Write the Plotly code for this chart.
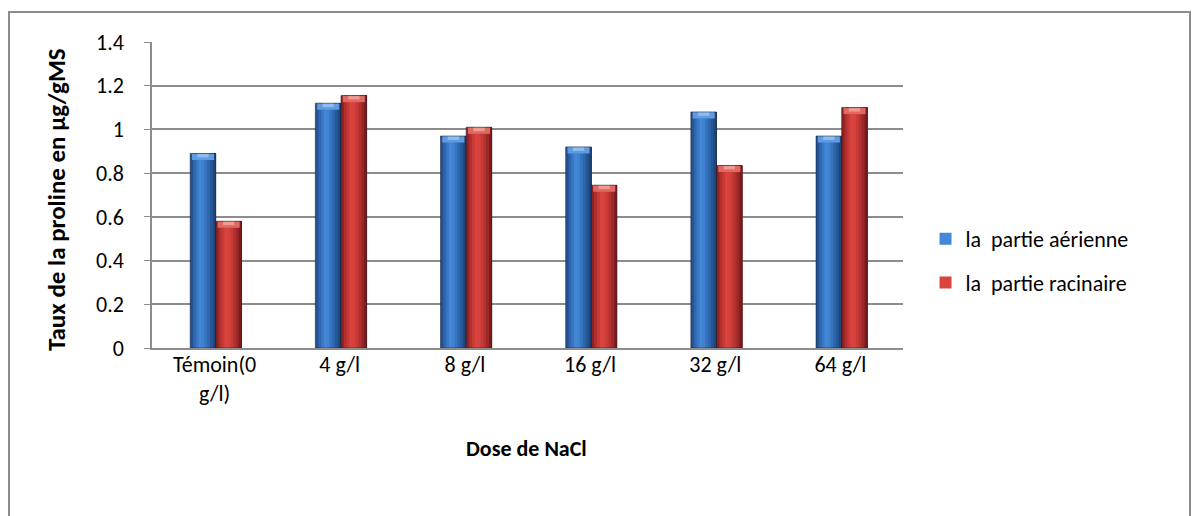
import plotly.graph_objects as go

# Proline content by NaCl dose
categories = ["Témoin(0<br>g/l)", "4 g/l", "8 g/l", "16 g/l", "32 g/l", "64 g/l"]
aerienne = [0.89, 1.12, 0.97, 0.92, 1.08, 0.97]
racinaire = [0.58, 1.155, 1.01, 0.745, 0.835, 1.10]
series_names = ["la  partie aérienne", "la  partie racinaire"]

FONT = "Carlito, Lato, 'Open Sans', sans-serif"
FS = 22

# cylinder shading: strip colours from left edge to right edge
blue_strips = ["#24518f", "#2f66ae", "#3a78c6", "#4387d6", "#3f82d0",
               "#3674c0", "#2d66ac", "#255696", "#1d4679"]
red_strips = ["#8e2222", "#b12f2c", "#c93a36", "#d9443f", "#d6423d",
              "#c83b37", "#b43230", "#9c2828", "#7c1d1d"]
# bevel highlight colours on the bar tops
blue_top = ["#5f9be0", "#8dbcf0"]
red_top = ["#e06a62", "#ee9a92"]

BAR_W = 0.205
fig = go.Figure()


def add_shaded(values, strips, tops, start, name):
    n = len(strips)
    w = BAR_W / n
    for i, col in enumerate(strips):
        # each strip runs to the bar's right edge; later strips cover earlier ones
        fig.add_trace(go.Bar(
            x=categories, y=values,
            width=[BAR_W - i * w] * len(values),
            offset=start + i * w,
            marker=dict(color=col, line=dict(width=0)),
            name=name,
            legendgroup=name,
            showlegend=(i == 3),
            hoverinfo="y+name",
        ))
    # light chevron-like bevel just under the top edge
    for k, (col, frac, depth) in enumerate([(tops[0], 0.86, 0.030), (tops[1], 0.44, 0.018)]):
        bw = BAR_W * frac
        fig.add_trace(go.Bar(
            x=categories, y=[depth] * len(values),
            base=[v - depth for v in values],
            width=[bw] * len(values),
            offset=start + (BAR_W - bw) / 2,
            marker=dict(color=col, line=dict(width=0)),
            showlegend=False, legendgroup=name, hoverinfo="skip",
        ))
    # thin dark outline on the whole bar
    fig.add_trace(go.Bar(
        x=categories, y=values,
        width=[BAR_W] * len(values), offset=start,
        marker=dict(color="rgba(0,0,0,0)", line=dict(width=1, color="rgba(20,20,40,0.5)")),
        showlegend=False, legendgroup=name, hoverinfo="skip",
    ))


add_shaded(aerienne, blue_strips, blue_top, -BAR_W + 0.01, series_names[0])
add_shaded(racinaire, red_strips, red_top, 0.01, series_names[1])

fig.update_layout(
    width=1196, height=516,
    margin=dict(l=152, r=293, t=42, b=168),
    paper_bgcolor="white", plot_bgcolor="white",
    barmode="overlay",
    font=dict(family=FONT, size=FS, color="#000000"),
    showlegend=True,
    legend=dict(x=1.03, y=(348 - 261) / 306, xanchor="left", yanchor="middle",
                font=dict(family=FONT, size=FS), tracegroupgap=12,
                bgcolor="rgba(0,0,0,0)"),
    xaxis=dict(
        type="category", showgrid=False, showline=True, linecolor="#8c8c8c",
        linewidth=1.5, ticks="", ticklabelstandoff=-4,
        tickfont=dict(family=FONT, size=FS), range=[-0.5, 5.5],
    ),
    yaxis=dict(
        range=[0, 1.4], dtick=0.2, tickformat="~g",
        showgrid=True, gridcolor="#8c8c8c", gridwidth=1.5,
        showline=True, linecolor="#8c8c8c", linewidth=1.5,
        ticks="outside", ticklen=6, tickcolor="#8c8c8c",
        ticklabelstandoff=16, zeroline=False,
        tickfont=dict(family=FONT, size=FS),
    ),
    annotations=[
        dict(text="<b>Taux de la proline en µg/gMS</b>", xref="paper", yref="paper",
             x=(57 - 152) / 751, y=(348 - 200) / 306, textangle=-90,
             xanchor="center", yanchor="middle",
             showarrow=False, font=dict(family=FONT, size=25)),
        dict(text="<b>Dose de NaCl</b>", xref="paper", yref="paper",
             x=(526 - 152) / 751, y=(348 - 448) / 306,
             xanchor="center", yanchor="middle",
             showarrow=False, font=dict(family=FONT, size=FS)),
    ],
    shapes=[
        dict(type="rect", xref="paper", yref="paper",
             x0=(9 - 152) / 751, x1=(1190 - 152) / 751,
             y0=(348 - 530) / 306, y1=(348 - 12) / 306,
             line=dict(color="#8c8c8c", width=2), fillcolor="rgba(0,0,0,0)",
             layer="below"),
    ],
)

fig.write_html("out.html")
